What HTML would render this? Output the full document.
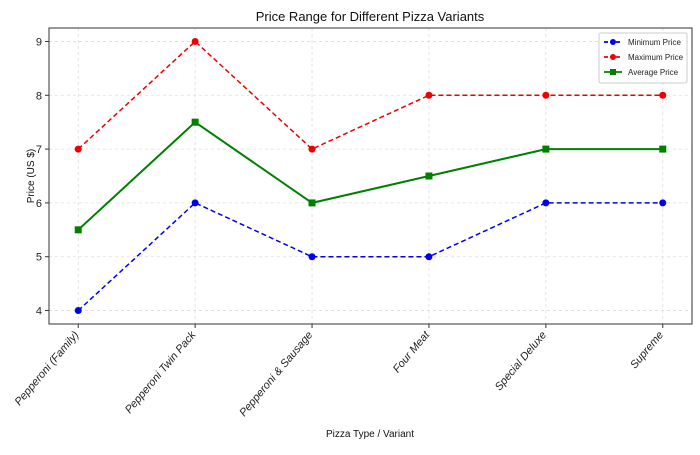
<!DOCTYPE html>
<html><head><meta charset="utf-8"><style>
body{margin:0;background:#fff;}
svg{font-family:"Liberation Sans",sans-serif;}
</style></head><body>
<svg id="c" width="700" height="450"></svg>
<script>
const categories=["Pepperoni (Family)","Pepperoni Twin Pack","Pepperoni & Sausage","Four Meat","Special Deluxe","Supreme"];
const minPrice=[4,6,5,5,6,6];
const maxPrice=[7,9,7,8,8,8];
const avgPrice=[5.5,7.5,6,6.5,7,7];
const yTicks=[4,5,6,7,8,9];
const NS="http://www.w3.org/2000/svg";
const svg=document.getElementById('c');
const L=49,R=692,T=28,B=324,ymin=3.75,ymax=9.25;
const n=categories.length;
const sx=i=>L+(R-L)*(i+0.25)/(n-1+0.5);
const sy=v=>B-(v-ymin)/(ymax-ymin)*(B-T);
function mk(tag,attrs,parent){const e=document.createElementNS(NS,tag);for(const k in attrs)e.setAttribute(k,attrs[k]);(parent||svg).appendChild(e);return e;}
const grid=mk('g',{});


yTicks.forEach(t=>{mk('line',{x1:L,x2:R,y1:sy(t),y2:sy(t),stroke:'#ddd','stroke-dasharray':'3,3','stroke-width':0.8},grid);
 mk('line',{x1:L-4,x2:L,y1:sy(t),y2:sy(t),stroke:'#333'});
 const tx=mk('text',{x:L-7,y:sy(t)+4,'text-anchor':'end','font-size':11,fill:'#222'});tx.textContent=t;
 
 });
categories.forEach((c,i)=>{const x=sx(i);
 mk('line',{x1:x,x2:x,y1:T,y2:B,stroke:'#ddd','stroke-dasharray':'3,3','stroke-width':0.8},grid);
 mk('line',{x1:x,x2:x,y1:B,y2:B+4,stroke:'#333'});
 const tx=mk('text',{x:x+1,y:B+11,'text-anchor':'end','font-size':11,'font-style':'italic',fill:'#222',transform:`rotate(-50 ${x+1} ${B+11})`});tx.textContent=c;
 
 });
const frame=mk('rect',{x:L,y:T,width:R-L,height:B-T,fill:'none',stroke:'#333','stroke-width':1});


function series(vals,color,dash,marker,name,w){
 const g=mk('g',{});
 
 
 mk('polyline',{points:vals.map((v,i)=>sx(i)+','+sy(v)).join(' '),fill:'none',stroke:color,'stroke-width':w,'stroke-dasharray':dash},g);
 vals.forEach((v,i)=>{let m;if(marker==='s')m=mk('rect',{x:sx(i)-3.5,y:sy(v)-3.5,width:7,height:7,fill:color},g);else m=mk('circle',{cx:sx(i),cy:sy(v),r:3.5,fill:color},g);
  
  });
}
series(minPrice,'#0000ee','5,3','o','minimum-price-series',1.5);
series(maxPrice,'#ee0000','5,3','o','maximum-price-series',1.5);
series(avgPrice,'#008000','','s','average-price-series',2);
const lg=mk('g',{});


mk('rect',{x:599,y:33,width:88,height:50,fill:'#fff',stroke:'#ccc',rx:2},lg);
[['Minimum Price','#0000ee','4,2','o'],['Maximum Price','#ee0000','4,2','o'],['Average Price','#008000','','s']].forEach((e,i)=>{
 const y=42+i*15;
 mk('line',{x1:604,x2:622,y1:y,y2:y,stroke:e[1],'stroke-width':1.8,'stroke-dasharray':e[2]},lg);
 if(e[3]==='s')mk('rect',{x:610,y:y-3,width:6,height:6,fill:e[1]},lg);else mk('circle',{cx:613,cy:y,r:3,fill:e[1]},lg);
 const t=mk('text',{x:628,y:y+3,'font-size':8,fill:'#222'},lg);t.textContent=e[0];
 
 });
const title=mk('text',{x:370,y:21,'text-anchor':'middle','font-size':13,fill:'#111'});title.textContent='Price Range for Different Pizza Variants';


const xt=mk('text',{x:370,y:437,'text-anchor':'middle','font-size':10,fill:'#111'});xt.textContent='Pizza Type / Variant';


const yt=mk('text',{x:34,y:176,'text-anchor':'middle','font-size':10,fill:'#111',transform:'rotate(-90 34 176)'});yt.textContent='Price (US $)';


</script>
</body></html>
